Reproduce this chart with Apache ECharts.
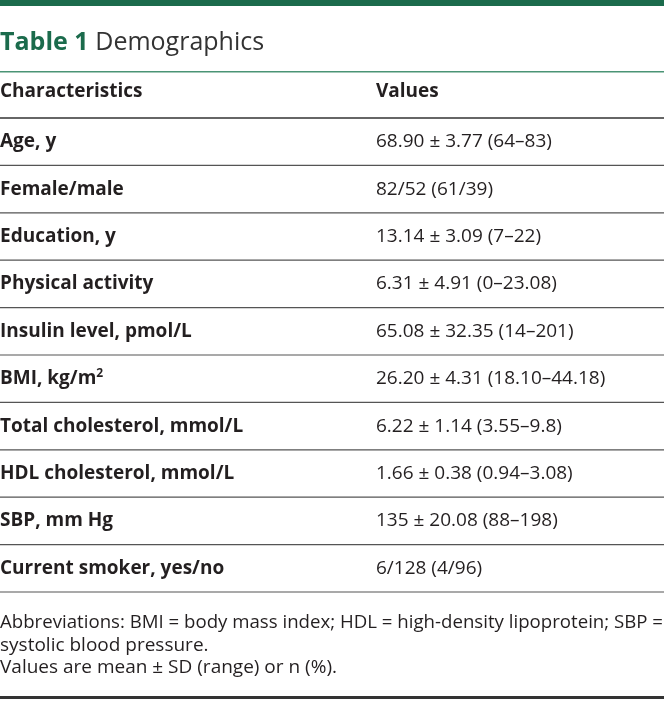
<!DOCTYPE html>
<html><head><meta charset="utf-8">
<script src="https://cdn.jsdelivr.net/npm/echarts@6/dist/echarts.min.js"></script>
<style>html,body{margin:0;padding:0;background:#fff}#c{width:664px;height:701px}</style>
</head><body><div id="c"></div>
<script>
const tableTitle = 'Table 1';
const tableSubtitle = 'Demographics';
const headers = ['Characteristics', 'Values'];
const characteristics = [
  'Age, y', 'Female/male', 'Education, y', 'Physical activity',
  'Insulin level, pmol/L', 'BMI, kg/m{sup|2}', 'Total cholesterol, mmol/L',
  'HDL cholesterol, mmol/L', 'SBP, mm Hg', 'Current smoker, yes/no'
];
const values = [
  '68.90 ± 3.77 (64–83)', '82/52 (61/39)', '13.14 ± 3.09 (7–22)', '6.31 ± 4.91 (0–23.08)',
  '65.08 ± 32.35 (14–201)', '26.20 ± 4.31 (18.10–44.18)', '6.22 ± 1.14 (3.55–9.8)',
  '1.66 ± 0.38 (0.94–3.08)', '135 ± 20.08 (88–198)', '6/128 (4/96)'
];
const footnotes = [
  'Abbreviations: BMI = body mass index; HDL = high-density lipoprotein; SBP =',
  'systolic blood pressure.',
  'Values are mean ± SD (range) or n (%).'
];

const FONT = '"Open Sans", sans-serif';
const TXT = '#231f20';
const GREEN = '#1b6b4c';
const valueX = 376;
const FOOT_FONT = '19px ' + FONT;

// fit the justified first footnote line to the full width
const ctx = document.createElement('canvas').getContext('2d');
ctx.font = FOOT_FONT;
const line1Scale = Math.min(1, 663 / ctx.measureText(footnotes[0]).width);

const chart = echarts.init(document.getElementById('c'), null, {renderer: 'canvas'});
chart.setOption({
  animation: false,
  grid: {left: 0, right: 0, top: 118, bottom: 109},
  xAxis: {type: 'value', min: 0, max: 664, show: false},
  yAxis: {type: 'category', inverse: true, data: characteristics, show: false},
  graphic: [
    {type: 'rect', shape: {x: 0, y: 0, width: 664, height: 6}, style: {fill: GREEN}},
    {type: 'text', x: 0, y: 43, style: {
      text: '{a|' + tableTitle + '}  {b|' + tableSubtitle + '}',
      verticalAlign: 'middle',
      rich: {
        a: {fontFamily: FONT, fontSize: 25, fontWeight: 'bold', fill: GREEN},
        b: {fontFamily: FONT, fontSize: 25, fill: '#333333'}
      }}},
    {type: 'rect', shape: {x: 0, y: 71, width: 664, height: 1.5}, style: {fill: '#4a9475'}},
    {type: 'text', x: 0, y: 92, style: {text: headers[0], font: 'bold 19px ' + FONT, fill: TXT, verticalAlign: 'middle'}},
    {type: 'text', x: valueX, y: 92, style: {text: headers[1], font: 'bold 19px ' + FONT, fill: TXT, verticalAlign: 'middle'}},
    {type: 'text', x: 0, y: 623, scaleX: line1Scale, style: {text: footnotes[0], font: FOOT_FONT, fill: TXT, verticalAlign: 'middle'}},
    {type: 'text', x: 0, y: 646, style: {text: footnotes[1], font: FOOT_FONT, fill: TXT, verticalAlign: 'middle'}},
    {type: 'text', x: 0, y: 668, style: {text: footnotes[2], font: FOOT_FONT, fill: TXT, verticalAlign: 'middle'}},
    {type: 'rect', shape: {x: 0, y: 696, width: 664, height: 3}, style: {fill: '#333333'}}
  ],
  series: [{
    type: 'custom',
    data: characteristics.map((c, i) => [0, i]),
    renderItem: function (params, api) {
      const i = api.value(1);
      const p = api.coord([0, i]);
      const h = api.size([0, 1])[1];
      const children = [
        {type: 'text', x: p[0], y: p[1], style: {
          text: characteristics[i], fill: TXT, verticalAlign: 'middle',
          font: 'bold 19px ' + FONT,
          rich: {sup: {fontFamily: FONT, fontWeight: 'bold', fontSize: 12, verticalAlign: 'top', padding: [0, 0, 10, 0]}}
        }},
        {type: 'text', x: valueX, y: p[1], style: {
          text: values[i], fill: TXT, verticalAlign: 'middle', font: '19px ' + FONT
        }},
        {type: 'line', shape: {x1: 0, y1: p[1] + h / 2, x2: 664, y2: p[1] + h / 2},
          style: {stroke: '#555555', lineWidth: 1.2}}
      ];
      if (i === 0) {
        children.push({type: 'line', shape: {x1: 0, y1: p[1] - h / 2, x2: 664, y2: p[1] - h / 2},
          style: {stroke: '#333333', lineWidth: 1.5}});
      }
      return {type: 'group', children: children};
    }
  }]
});
</script>
</body></html>
